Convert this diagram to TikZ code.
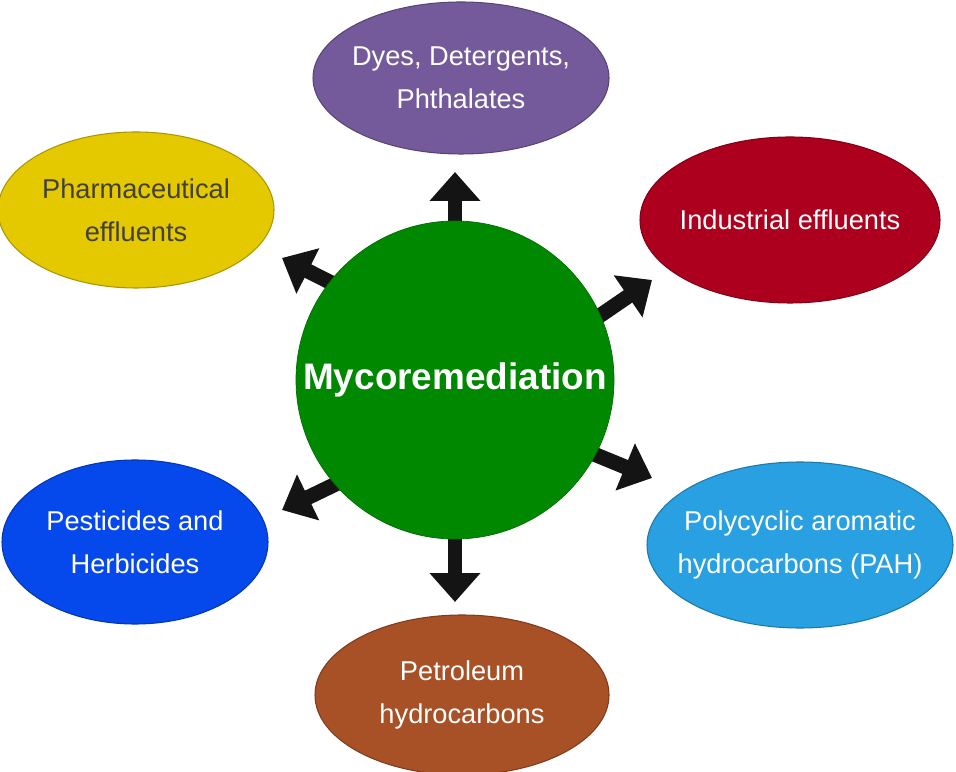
\documentclass[tikz,border=0pt]{standalone}
\usepackage{fontspec}
\setmainfont{Liberation Sans}
\usetikzlibrary{shapes.geometric, arrows.meta, backgrounds}

\definecolor{hubgreen}{RGB}{0,136,0}
\definecolor{dyepurple}{RGB}{117,90,155}
\definecolor{pharmyellow}{RGB}{228,200,0}
\definecolor{indred}{RGB}{172,0,30}
\definecolor{pestblue}{RGB}{5,72,235}
\definecolor{pahblue}{RGB}{40,160,225}
\definecolor{petbrown}{RGB}{168,80,38}
\definecolor{arrowblack}{RGB}{20,20,20}

\tikzset{
  blob/.style = {ellipse, fill=#1, draw=#1!75!black, line width=0.6pt,
                 inner sep=-15pt, align=center, text=white,
                 font=\fontsize{15.5}{24.5}\selectfont},
  blob/.default = gray,
  push/.style = {line width=8.5pt, color=arrowblack, shorten <=-10pt,
                 -{Triangle[width=28pt, length=16.5pt]}}
}

\begin{document}
\begin{tikzpicture}[scale=1]
	\def \W{19.12}
	\def \H{15.42}
	\useasboundingbox (0,0) rectangle (\W,\H);
	\clip (0,0) rectangle (\W,\H);

	% Centre
	\node[circle, fill=hubgreen, draw=hubgreen!80!black, minimum size=6.36cm,
	      inner sep=0pt, text=white, font=\fontsize{21}{25}\selectfont\bfseries]
	      (hub) at (9.10,7.82) {Mycoremediation};

	% Pollutants
	\node[blob=dyepurple, minimum width=5.92cm, minimum height=3.04cm] (dyes) at (9.22,13.86) {Dyes, Detergents,\\Phthalates};
	\node[blob=pharmyellow, text=black!85!yellow, minimum width=5.52cm, minimum height=3.12cm] (pharma) at (2.72,11.22) {Pharmaceutical\\effluents};
	\node[blob=indred, minimum width=6.00cm, minimum height=3.32cm] (indus) at (15.80,11.02) {Industrial effluents};
	\node[blob=pestblue, minimum width=5.32cm, minimum height=3.28cm] (pest) at (2.70,4.58) {Pesticides and\\Herbicides};
	\node[blob=pahblue, minimum width=6.12cm, minimum height=3.32cm] (pah) at (16.00,4.52) {Polycyclic aromatic\\hydrocarbons (PAH)};
	\node[blob=petbrown, minimum width=5.88cm, minimum height=3.20cm] (petro) at (9.24,1.52) {Petroleum\\hydrocarbons};

	% Arrow tips
	\coordinate (tipDyes)   at (9.10,11.98);
	\coordinate (tipPetro)  at (9.10,3.38);
	\coordinate (tipPharma) at (5.64,10.26);
	\coordinate (tipIndus)  at (13.04,9.82);
	\coordinate (tipPah)    at (13.04,5.86);
	\coordinate (tipPest)   at (5.64,5.22);

	% Arrows (behind the circle)
	\begin{scope}[on background layer]
		\draw[push] (hub.90)    -- (tipDyes);
		\draw[push] (hub.270)   -- (tipPetro);
		\draw[push] (hub.142)   -- (tipPharma);
		\draw[push] (hub.24)    -- (tipIndus);
		\draw[push] (hub.-28)   -- (tipPah);
		\draw[push] (hub.221)   -- (tipPest);
	\end{scope}
\end{tikzpicture}
\end{document}
